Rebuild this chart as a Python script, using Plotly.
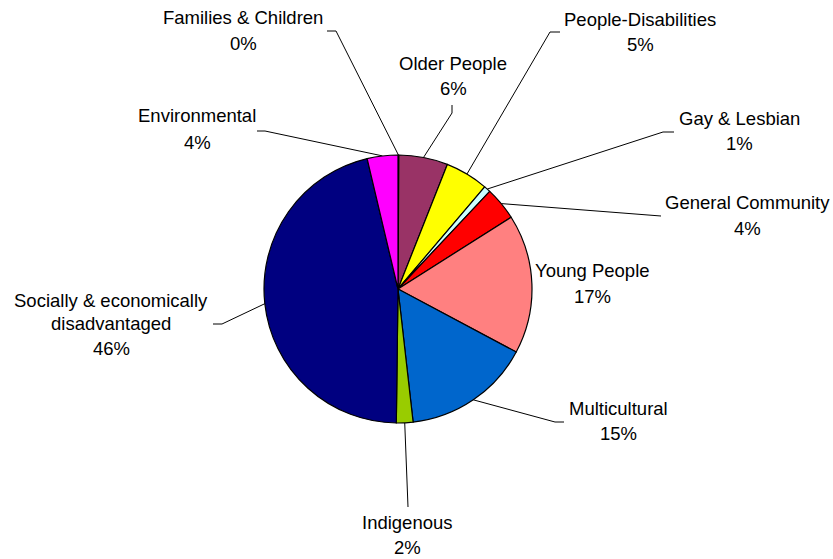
import math
import plotly.graph_objects as go

# ---- data ----
categories = ["Families & Children", "Older People", "People-Disabilities", "Gay & Lesbian",
              "General Community", "Young People", "Multicultural", "Indigenous",
              "Socially & economically disadvantaged", "Environmental"]
values = [0.1, 5.9, 5.2, 0.8, 4.0, 16.8, 15.4, 2.0, 46.1, 3.7]

# ---- styles / layout positions (pixels) ----
colors = ["#9999FF", "#993366", "#FFFF00", "#CCFFFF", "#FF0000", "#FF8080",
          "#0066CC", "#99CC00", "#000080", "#FF00FF"]
W, H = 833, 559
CX, CY, R = 398, 289, 134
label_lines = {8: ["Socially & economically", "disadvantaged"]}
label_x = [243, 453, 640, 739, 747, 592, 618, 407, 111, 197]
label_y = [[17, 43], [63, 88], [19, 44], [118, 143], [202, 228], [270, 296],
           [408, 433], [522, 547], [300, 323, 348], [115, 142]]
elbows = [[(327, 31), (336, 31)], [(452, 105), (452, 113)], [(560, 32), (550, 32)],
          [(674, 132), (663, 132)], [(661, 216)], None, [(564, 422), (555, 422)],
          [(408, 507)], [(213, 324), (222, 324)], [(257, 131), (265, 131)]]
FONT = dict(family="Liberation Sans, Arial, sans-serif", size=18.5, color="black")

fig = go.Figure()
fig.add_trace(go.Pie(
    labels=categories, values=values, sort=False, direction="clockwise", rotation=0,
    marker=dict(colors=colors, line=dict(color="black", width=1.2)),
    textinfo="none", hoverinfo="label+percent", showlegend=False,
    domain=dict(x=[(CX - R) / W, (CX + R) / W], y=[1 - (CY + R) / H, 1 - (CY - R) / H]),
))

total = sum(values)
cum = 0.0
annotations = []
for i, (name, v) in enumerate(zip(categories, values)):
    mid = (cum + v / 2) / total * 2 * math.pi
    cum += v
    ex, ey = CX + R * math.sin(mid), CY - R * math.cos(mid)
    if elbows[i]:
        pts = elbows[i] + [(ex, ey)]
        fig.add_trace(go.Scatter(x=[p[0] for p in pts], y=[p[1] for p in pts], mode="lines",
                                 line=dict(color="black", width=1), hoverinfo="skip",
                                 showlegend=False))
    lines = label_lines.get(i, [name]) + [f"{round(v / total * 100)}%"]
    for txt, yy in zip(lines, label_y[i]):
        annotations.append(dict(x=label_x[i], y=yy, xref="x", yref="y", text=txt,
                                showarrow=False, xanchor="center", yanchor="middle", font=FONT))

fig.update_layout(
    width=W, height=H, margin=dict(l=0, r=0, t=0, b=0),
    paper_bgcolor="white", plot_bgcolor="rgba(0,0,0,0)",
    xaxis=dict(range=[0, W], visible=False, fixedrange=True, domain=[0, 1]),
    yaxis=dict(range=[H, 0], visible=False, fixedrange=True, domain=[0, 1]),
    annotations=annotations,
)
fig.write_html("out.html", config={"displayModeBar": False},
               post_script="document.body.style.margin='0';document.body.style.overflow='hidden';")
